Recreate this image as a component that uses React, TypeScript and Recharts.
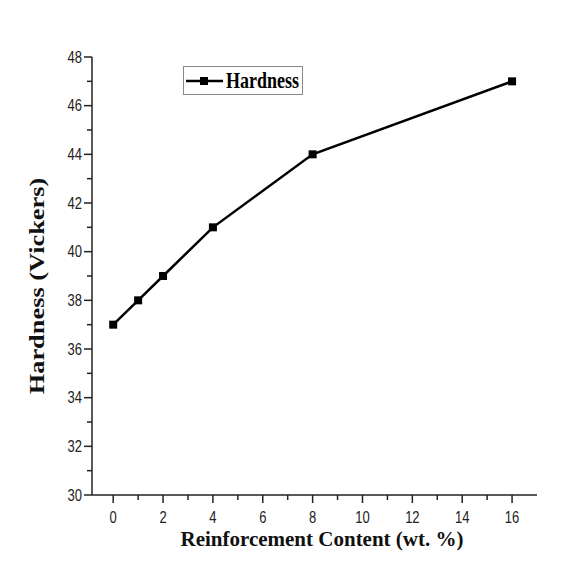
import { LineChart, Line, XAxis, YAxis } from 'recharts';

// Hardness vs. reinforcement content
const contents = [0, 1, 2, 4, 8, 16];
const hardness = [37, 38, 39, 41, 44, 47];

const xTicks = [0, 1, 2, 3, 4, 5, 6, 7, 8, 9, 10, 11, 12, 13, 14, 15, 16];
const yTicks = [30, 31, 32, 33, 34, 35, 36, 37, 38, 39, 40, 41, 42, 43, 44, 45, 46, 47, 48];

const data = contents.map((c, i) => ({ content: c, hardness: hardness[i] }));

const tickFont = '"Liberation Sans", Arial, sans-serif';
const titleFont = '"Liberation Serif", "Times New Roman", serif';

// the source picture is stretched vertically, so the labels are too
const XTick = (props: any) => {
  const { x, y, payload } = props;
  const major = payload.value % 2 === 0;
  return (
    <g>
      <line x1={x} x2={x} y1={y} y2={y + (major ? 8 : 5)} stroke="#222" strokeWidth={1.5} />
      {major && (
        <text
          transform={`translate(${x},${y + 28}) scale(1,1.28)`}
          textAnchor="middle"
          fontFamily={tickFont}
          fontSize={13}
          fill="#222"
        >
          {payload.value}
        </text>
      )}
    </g>
  );
};

const YTick = (props: any) => {
  const { x, y, payload } = props;
  const major = payload.value % 2 === 0;
  return (
    <g>
      <line x1={x} x2={x - (major ? 8 : 5)} y1={y} y2={y} stroke="#222" strokeWidth={1.5} />
      {major && (
        <text
          transform={`translate(${x - 10},${y + 5.5}) scale(1,1.28)`}
          textAnchor="end"
          fontFamily={tickFont}
          fontSize={13}
          fill="#222"
        >
          {payload.value}
        </text>
      )}
    </g>
  );
};

export default function App() {
  return (
    <div style={{ position: 'absolute', left: 0, top: 0, width: 585, height: 563, background: '#fff' }}>
      <LineChart width={585} height={563} data={data} margin={{ top: 57, right: 48, left: 0, bottom: 0 }}>
        <XAxis
          dataKey="content"
          type="number"
          domain={[-0.85, 17]}
          ticks={xTicks}
          interval={0}
          allowDataOverflow
          height={68}
          tickSize={0}
          tickMargin={0}
          tickLine={false}
          tick={<XTick />}
          axisLine={{ stroke: '#222', strokeWidth: 1.5 }}
          label={{
            content: () => (
              <text x={322} y={546} textAnchor="middle" fontFamily={titleFont} fontWeight="bold" fontSize={21} fill="#111">
                Reinforcement Content (wt. %)
              </text>
            ),
          }}
        />
        <XAxis
          xAxisId="top"
          orientation="top"
          type="number"
          domain={[-0.85, 17]}
          allowDataOverflow
          height={0}
          tick={false}
          tickLine={false}
          axisLine={{ stroke: '#222', strokeWidth: 1.5 }}
        />
        <YAxis
          type="number"
          domain={[30, 48]}
          ticks={yTicks}
          interval={0}
          allowDataOverflow
          width={92}
          tickSize={0}
          tickMargin={0}
          tickLine={false}
          tick={<YTick />}
          axisLine={{ stroke: '#222', strokeWidth: 1.5 }}
          label={{
            content: () => (
              <text
                transform="translate(44,286) rotate(-90) scale(1.32,1)"
                textAnchor="middle"
                fontFamily={titleFont}
                fontWeight="bold"
                fontSize={20}
                fill="#111"
              >
                Hardness (Vickers)
              </text>
            ),
          }}
        />
        <YAxis
          yAxisId="right"
          orientation="right"
          type="number"
          domain={[30, 48]}
          width={0}
          tick={false}
          tickLine={false}
          axisLine={{ stroke: '#222', strokeWidth: 1.5 }}
        />
        <Line
          dataKey="hardness"
          name="Hardness"
          stroke="#000"
          strokeWidth={2.5}
          isAnimationActive={false}
          dot={(p: any) => (
            <rect key={p.index} x={p.cx - 4} y={p.cy - 4} width={8} height={8} fill="#000" />
          )}
          activeDot={false}
        />
      </LineChart>
      <div
        style={{
          position: 'absolute',
          left: 183,
          top: 66,
          width: 118,
          height: 27,
          border: '1px solid #888',
          display: 'flex',
          alignItems: 'center',
          background: '#fff',
        }}
      >
        <svg width={42} height={27}>
          <line x1={2} x2={39} y1={14} y2={14} stroke="#000" strokeWidth={2.5} />
          <rect x={16} y={10} width={8} height={8} fill="#000" />
        </svg>
        <span
          style={{
            display: 'inline-block',
            fontFamily: titleFont,
            fontWeight: 'bold',
            fontSize: 18,
            color: '#000',
            transform: 'scaleY(1.3)',
          }}
        >
          Hardness
        </span>
      </div>
    </div>
  );
}
